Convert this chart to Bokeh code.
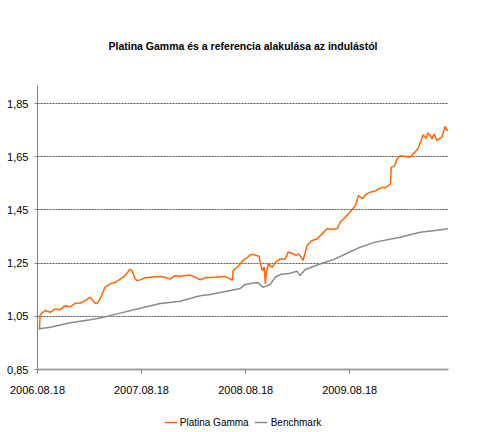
import pandas as pd
from bokeh.plotting import figure
from bokeh.layouts import column
from bokeh.models import FixedTicker, Range1d, Legend, LegendItem
from bokeh.embed import file_html
from bokeh.resources import INLINE

title_text = "Platina Gamma és a referencia alakulása az indulástól"

gamma_dates = [
    "2006-08-25", "2006-08-27", "2006-08-30", "2006-09-14", "2006-10-02", "2006-10-19",
    "2006-11-06", "2006-11-23", "2006-12-11", "2006-12-28", "2007-01-15", "2007-02-01",
    "2007-02-19", "2007-03-01", "2007-03-08", "2007-03-15", "2007-03-26", "2007-04-12",
    "2007-04-30", "2007-05-18", "2007-06-04", "2007-06-22", "2007-07-09", "2007-07-16",
    "2007-07-27", "2007-08-03", "2007-08-14", "2007-08-31", "2007-09-18", "2007-10-23",
    "2007-11-09", "2007-11-27", "2007-12-14", "2008-01-01", "2008-02-05", "2008-02-23",
    "2008-03-11", "2008-03-29", "2008-05-03", "2008-06-07", "2008-06-25", "2008-07-02",
    "2008-07-05", "2008-07-16", "2008-07-30", "2008-08-09", "2008-08-23", "2008-09-03",
    "2008-09-13", "2008-09-24", "2008-10-04", "2008-10-08", "2008-10-15", "2008-10-22",
    "2008-10-26", "2008-10-29", "2008-11-05", "2008-11-19", "2008-11-30", "2008-12-17",
    "2009-01-04", "2009-01-14", "2009-01-28", "2009-02-11", "2009-02-21", "2009-03-07",
    "2009-03-14", "2009-03-21", "2009-04-08", "2009-04-25", "2009-05-13", "2009-05-31",
    "2009-06-17", "2009-07-05", "2009-07-16", "2009-08-03", "2009-08-21", "2009-09-07",
    "2009-09-18", "2009-10-02", "2009-10-16", "2009-10-30", "2009-11-13", "2009-11-27",
    "2009-12-11", "2009-12-21", "2010-01-01", "2010-01-08", "2010-01-11", "2010-01-22",
    "2010-02-01", "2010-02-11", "2010-02-25", "2010-03-08", "2010-03-18", "2010-03-29",
    "2010-04-15", "2010-04-26", "2010-05-03", "2010-05-13", "2010-05-20", "2010-05-27",
    "2010-06-03", "2010-06-10", "2010-06-21", "2010-07-01", "2010-07-08", "2010-07-19",
    "2010-07-26", "2010-07-29",
]
gamma_values = [
    1.000, 1.055, 1.059, 1.072, 1.065, 1.078,
    1.075, 1.090, 1.085, 1.099, 1.100, 1.109,
    1.122, 1.109, 1.099, 1.098, 1.116, 1.159,
    1.172, 1.178, 1.190, 1.203, 1.228, 1.222,
    1.190, 1.184, 1.187, 1.195, 1.197, 1.200,
    1.197, 1.190, 1.203, 1.201, 1.205, 1.197,
    1.187, 1.195, 1.197, 1.200, 1.190, 1.185,
    1.222, 1.232, 1.247, 1.262, 1.270, 1.281,
    1.283, 1.279, 1.276, 1.253, 1.222, 1.235,
    1.172, 1.210, 1.247, 1.234, 1.253, 1.266,
    1.266, 1.291, 1.287, 1.279, 1.285, 1.260,
    1.285, 1.316, 1.335, 1.341, 1.360, 1.379,
    1.377, 1.379, 1.404, 1.423, 1.444, 1.467,
    1.504, 1.492, 1.510, 1.517, 1.520, 1.529,
    1.535, 1.533, 1.542, 1.548, 1.610, 1.615,
    1.642, 1.654, 1.652, 1.650, 1.648, 1.660,
    1.680, 1.711, 1.733, 1.720, 1.739, 1.730,
    1.717, 1.735, 1.711, 1.720, 1.725, 1.764,
    1.749, 1.752,
]

bench_dates = [
    "2006-08-25", "2006-10-02", "2006-12-11", "2007-02-19", "2007-03-26", "2007-06-04",
    "2007-08-14", "2007-10-23", "2008-01-01", "2008-03-11", "2008-04-15", "2008-06-25",
    "2008-07-30", "2008-08-16", "2008-09-20", "2008-10-01", "2008-10-18", "2008-11-12",
    "2008-11-30", "2008-12-17", "2009-01-21", "2009-02-14", "2009-02-25", "2009-03-14",
    "2009-05-06", "2009-06-28", "2009-08-09", "2009-09-24", "2009-11-16", "2010-02-11",
    "2010-04-22", "2010-06-14", "2010-07-29",
]
bench_values = [
    1.003, 1.009, 1.026, 1.037, 1.044, 1.062,
    1.080, 1.098, 1.107, 1.127, 1.132, 1.147,
    1.155, 1.170, 1.176, 1.176, 1.159, 1.170,
    1.197, 1.207, 1.212, 1.220, 1.203, 1.225,
    1.247, 1.266, 1.287, 1.310, 1.329, 1.347,
    1.366, 1.373, 1.379,
]

x_tick_labels = ["2006.08.18", "2007.08.18", "2008.08.18", "2009.08.18"]
y_ticks = [0.85, 1.05, 1.25, 1.45, 1.65, 1.85]
y_tick_labels = ["0,85", "1,05", "1,25", "1,45", "1,65", "1,85"]
series_names = ["Platina Gamma", "Benchmark"]
series_colors = ["#FF6600", "#8A8A8A"]

FONT = "Liberation Sans"


def ms(s):
    return pd.Timestamp(s).value / 1e6


gx = pd.to_datetime(gamma_dates)
bx = pd.to_datetime(bench_dates)
x_ticks = [ms(t.replace(".", "-")) for t in x_tick_labels]

# ---- main chart ----
p = figure(width=462, height=400, x_axis_type="datetime",
           output_backend="svg", toolbar_location=None,
           x_range=Range1d(x_ticks[0], ms("2010-07-31")),
           y_range=Range1d(0.85, 1.918),
           min_border_left=37, min_border_right=14,
           min_border_top=85, min_border_bottom=31)
p.outline_line_color = None
p.background_fill_color = "white"
p.border_fill_color = "white"

p.title.text = title_text
p.title.align = "center"
p.title.text_font = FONT
p.title.text_font_size = "10.5px"
p.title.text_font_style = "bold"
p.title.text_color = "black"
p.title.standoff = 68

p.line(gx, gamma_values, line_color=series_colors[0], line_width=1.5)
p.line(bx, bench_values, line_color=series_colors[1], line_width=1.5)

p.xaxis.ticker = FixedTicker(ticks=x_ticks)
p.xaxis.major_label_overrides = {t: l for t, l in zip(x_ticks, x_tick_labels)}
p.xaxis.axis_line_color = "#A0A0A0"
p.xaxis.axis_line_width = 2
p.xaxis.major_tick_line_color = "#808080"
p.xaxis.major_tick_out = 4
p.xaxis.major_tick_in = 0
p.xaxis.minor_tick_line_color = None
p.xaxis.major_label_standoff = 12

p.yaxis.ticker = FixedTicker(ticks=y_ticks)
p.yaxis.major_label_overrides = {t: l for t, l in zip(y_ticks, y_tick_labels)}
p.yaxis.axis_line_color = "#808080"
p.yaxis.major_tick_line_color = "#808080"
p.yaxis.major_tick_out = 3
p.yaxis.major_tick_in = 0
p.yaxis.minor_tick_line_color = None
p.yaxis.major_label_standoff = 6

for ax in (p.xaxis, p.yaxis):
    ax.major_label_text_font = FONT
    ax.major_label_text_font_size = "11px"
    ax.major_label_text_color = "black"

p.xgrid.grid_line_color = None
p.ygrid.ticker = FixedTicker(ticks=y_ticks[1:])
p.ygrid.grid_line_color = "#555555"
p.ygrid.grid_line_dash = "2 1"
p.ygrid.grid_line_width = 1

# ---- legend strip (same series, drawn outside its visible range) ----
q = figure(width=462, height=30, output_backend="svg", toolbar_location=None,
           x_axis_location=None, y_axis_location=None,
           x_range=Range1d(0, 1), y_range=Range1d(0, 1),
           min_border_left=24, min_border_right=0,
           min_border_top=14, min_border_bottom=0)
q.outline_line_color = None
q.grid.visible = False
lg = q.line(gx, gamma_values, line_color=series_colors[0], line_width=1.5)
lb = q.line(bx, bench_values, line_color=series_colors[1], line_width=1.5)

legend = Legend(items=[LegendItem(label=series_names[0], renderers=[lg]),
                       LegendItem(label=series_names[1], renderers=[lb])],
                orientation="horizontal", location="center",
                border_line_color=None, background_fill_alpha=0,
                padding=0, spacing=6, margin=0,
                glyph_width=13, glyph_height=12, label_height=12,
                label_standoff=3,
                label_text_font=FONT, label_text_font_size="10px",
                label_text_color="black")
q.add_layout(legend, "center")

layout = column(p, q, spacing=0)
open("out.html", "w").write(file_html(layout, INLINE))
